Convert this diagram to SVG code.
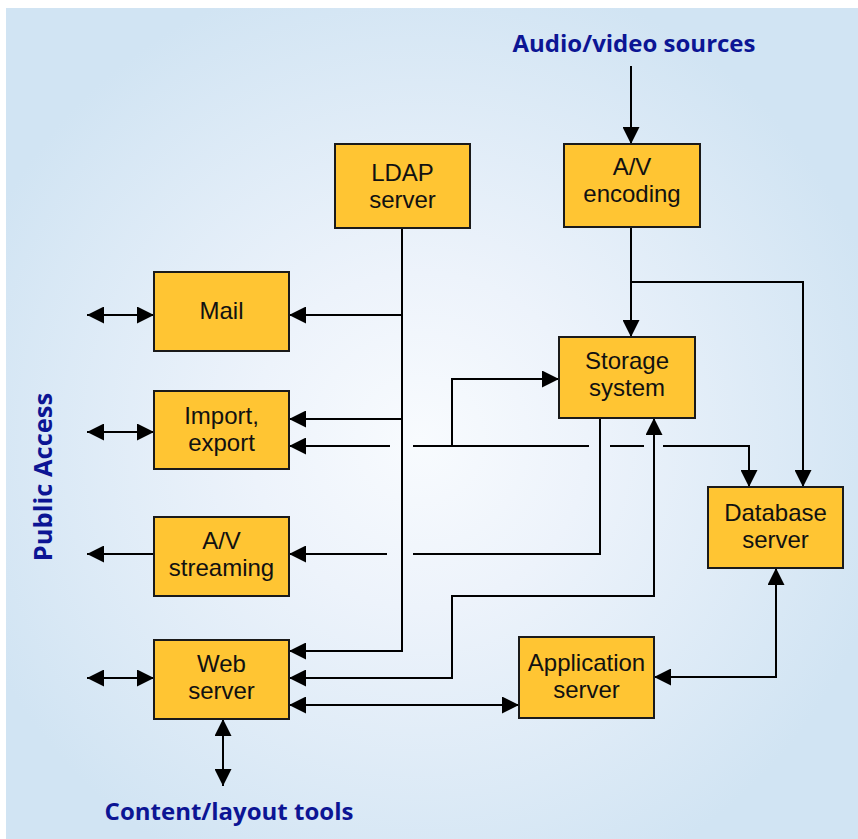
<svg xmlns="http://www.w3.org/2000/svg" width="858" height="839" viewBox="0 0 858 839">
  <defs>
    <radialGradient id="bg" gradientUnits="userSpaceOnUse" cx="420" cy="440" r="480">
      <stop offset="0" stop-color="#f8fbfe"/>
      <stop offset="0.35" stop-color="#edf3fb"/>
      <stop offset="1" stop-color="#d1e4f3"/>
    </radialGradient>
    <marker id="ah" viewBox="0 0 17 17" refX="17" refY="8.5" markerWidth="17" markerHeight="17" markerUnits="userSpaceOnUse" orient="auto-start-reverse">
      <path d="M0,0 L17,8.5 L0,17 Z" fill="#000"/>
    </marker>
    <style>
      .box { fill: #ffc533; stroke: #1a1a1a; stroke-width: 2; }
      .lbl { font-family: "Liberation Sans", Arial, sans-serif; font-size: 24px; fill: #111; text-anchor: middle; }
      .ttl { font-family: "Open Sans", "Noto Sans", sans-serif; font-size: 24px; font-weight: bold; fill: #0c1594; text-anchor: middle; }
      .c { fill: none; stroke: #000; stroke-width: 2; }
      .e { marker-end: url(#ah); }
      .b { marker-start: url(#ah); marker-end: url(#ah); }
    </style>
  </defs>

  <rect x="0" y="0" width="858" height="839" fill="#ffffff"/>
  <rect x="6" y="8" width="852" height="831" fill="url(#bg)"/>

  <g id="connectors">
    <path class="c e" d="M631,66 V144"/>
    <path class="c e" d="M631,227 V337"/>
    <path class="c e" d="M631,282 H803 V487"/>
    <path class="c e" d="M402,228 V651 H289"/>
    <path class="c e" d="M402,315 H289"/>
    <path class="c e" d="M402,419 H289"/>
    <path class="c e" d="M390,446 H289"/>
    <path class="c" d="M413,446 H589"/>
    <path class="c" d="M610,446 H644"/>
    <path class="c e" d="M663,446 H749 V487"/>
    <path class="c e" d="M452,446 V379 H559"/>
    <path class="c" d="M600,418 V554 H413"/>
    <path class="c e" d="M387,554 H289"/>
    <path class="c b" d="M289,678 H452 V596 H654 V418"/>
    <path class="c b" d="M289,705 H519"/>
    <path class="c b" d="M654,677 H776 V568"/>
    <path class="c b" d="M87,315 H154"/>
    <path class="c b" d="M87,432 H154"/>
    <path class="c b" d="M87,678 H154"/>
    <path class="c e" d="M154,554 H87"/>
    <path class="c b" d="M223,719 V786"/>
  </g>

  <g id="ldap">
    <rect class="box" x="335" y="144" width="135" height="84"/>
    <text class="lbl" x="402.5" y="181">LDAP</text>
    <text class="lbl" x="402.5" y="208">server</text>
  </g>
  <g id="av-encoding">
    <rect class="box" x="564" y="144" width="136" height="83"/>
    <text class="lbl" x="632" y="175">A/V</text>
    <text class="lbl" x="632" y="202">encoding</text>
  </g>
  <g id="mail">
    <rect class="box" x="154" y="272" width="135" height="79"/>
    <text class="lbl" x="221.5" y="319">Mail</text>
  </g>
  <g id="storage">
    <rect class="box" x="559" y="337" width="136" height="81"/>
    <text class="lbl" x="627" y="369">Storage</text>
    <text class="lbl" x="627" y="396">system</text>
  </g>
  <g id="import-export">
    <rect class="box" x="154" y="391" width="135" height="78"/>
    <text class="lbl" x="221.5" y="424">Import,</text>
    <text class="lbl" x="221.5" y="451">export</text>
  </g>
  <g id="database">
    <rect class="box" x="708" y="487" width="135" height="81"/>
    <text class="lbl" x="775.5" y="521">Database</text>
    <text class="lbl" x="775.5" y="548">server</text>
  </g>
  <g id="av-streaming">
    <rect class="box" x="154" y="517" width="135" height="79"/>
    <text class="lbl" x="221.5" y="549">A/V</text>
    <text class="lbl" x="221.5" y="576">streaming</text>
  </g>
  <g id="web">
    <rect class="box" x="154" y="640" width="135" height="79"/>
    <text class="lbl" x="221.5" y="672">Web</text>
    <text class="lbl" x="221.5" y="699">server</text>
  </g>
  <g id="application">
    <rect class="box" x="519" y="637" width="135" height="81"/>
    <text class="lbl" x="586.5" y="671">Application</text>
    <text class="lbl" x="586.5" y="698">server</text>
  </g>

  <g id="titles">
    <text class="ttl" x="634" y="52">Audio/video sources</text>
    <text class="ttl" x="229" y="820">Content/layout tools</text>
    <text class="ttl" x="0" y="0" style="font-size:25.5px" transform="translate(52,477) rotate(-90)">Public Access</text>
  </g>
</svg>
